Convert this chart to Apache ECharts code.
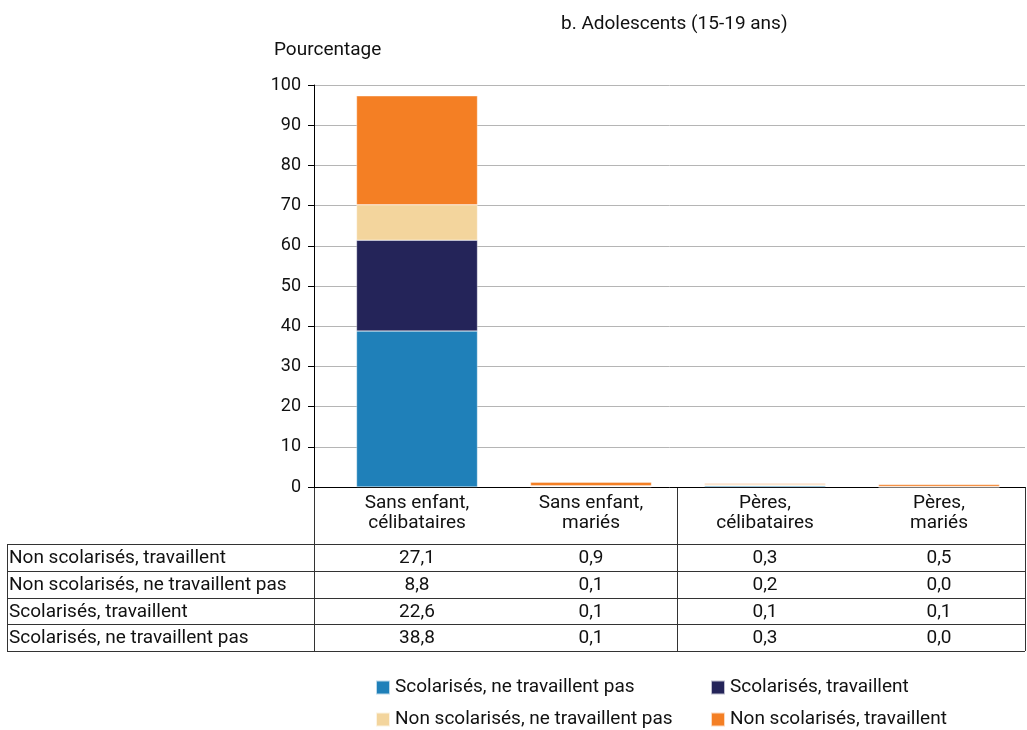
<!DOCTYPE html>
<html lang="fr">
<head>
<meta charset="UTF-8">
<title>Adolescents (15-19 ans)</title>
<style>
  html, body { margin: 0; padding: 0; background: #fff; }
  #main { width: 1027px; height: 730px; }
</style>
</head>
<body>
<div id="main"></div>
<script src="https://cdn.jsdelivr.net/npm/echarts@6/dist/echarts.min.js"></script>
<script>
// categories (x axis)
var categories = ['Sans enfant,\ncélibataires', 'Sans enfant,\nmariés', 'Pères,\ncélibataires', 'Pères,\nmariés'];

// series, stacked from bottom to top
var seriesNames = [
  'Scolarisés, ne travaillent pas',
  'Scolarisés, travaillent',
  'Non scolarisés, ne travaillent pas',
  'Non scolarisés, travaillent'
];
var scolNeTravPas = [38.8, 0.1, 0.3, 0.0];
var scolTrav = [22.6, 0.1, 0.1, 0.1];
var nonScolNeTravPas = [8.8, 0.1, 0.2, 0.0];
var nonScolTrav = [27.1, 0.9, 0.3, 0.5];
var seriesData = [scolNeTravPas, scolTrav, nonScolNeTravPas, nonScolTrav];
var colors = ['#1f80b9', '#242459', '#f3d59d', '#f47f24'];

// order of rows in the data table (top to bottom)
var tableOrder = [3, 2, 1, 0];

var FONT = 'Roboto, "Liberation Sans", sans-serif';
var TXT = '#111';
var FS = 19;

var chart = echarts.init(document.getElementById('main'));

// one legend per item so the two columns line up like the original
var legendPos = [[370, 673], [705, 673], [370, 705], [705, 705]];
var legends = seriesNames.map(function (name, i) {
  return {
    left: legendPos[i][0], top: legendPos[i][1],
    itemWidth: 14, itemHeight: 14, itemGap: 8, icon: 'rect',
    data: [name],
    textStyle: { fontSize: FS, color: TXT, fontFamily: FONT }
  };
});

var option = {
  backgroundColor: '#fff',
  animation: false,
  textStyle: { fontFamily: FONT },
  title: [
    { text: 'b. Adolescents (15-19 ans)', left: 556, top: 10,
      textStyle: { fontSize: FS, fontWeight: 'normal', color: TXT, fontFamily: FONT } },
    { text: 'Pourcentage', left: 269, top: 36,
      textStyle: { fontSize: FS, fontWeight: 'normal', color: TXT, fontFamily: FONT } }
  ],
  legend: legends,
  grid: [
    { left: 314, right: 2, top: 85, height: 402 },
    { left: 330, right: 1, top: 85, height: 402 }
  ],
  xAxis: [
    { gridIndex: 0, type: 'category', data: categories,
      axisLine: { lineStyle: { color: '#000', width: 1 } },
      axisTick: { show: false }, axisLabel: { show: false } },
    { gridIndex: 1, type: 'category', data: categories,
      axisLine: { show: false }, axisTick: { show: false },
      axisLabel: { fontSize: FS, lineHeight: 20, color: TXT, margin: 6, fontFamily: FONT } }
  ],
  yAxis: [
    { gridIndex: 0, type: 'value', min: 0, max: 100, interval: 10,
      axisLine: { show: true, lineStyle: { color: '#000', width: 1 } },
      axisTick: { show: true, length: 6, lineStyle: { color: '#000' } },
      axisLabel: { fontSize: 18, color: TXT, margin: 13, fontFamily: FONT },
      splitLine: { lineStyle: { color: '#b5b5b5', width: 1 } } },
    { gridIndex: 1, type: 'value', min: 0, max: 100, show: false, splitLine: { show: false } }
  ],
  series: seriesNames.map(function (name, i) {
    return {
      name: name,
      type: 'bar',
      stack: 'total',
      xAxisIndex: 1,
      yAxisIndex: 1,
      barWidth: 121,
      itemStyle: { color: colors[i], borderColor: 'rgba(255,255,255,0.7)', borderWidth: 0.5 },
      data: seriesData[i]
    };
  })
};

chart.setOption(option);

// data table under the chart
function fmt(v) { return v.toFixed(1).replace('.', ','); }

var rowLines = [544, 571, 598, 624, 651];
var tableLeft = 7, tableRight = 1025, axisX = 314;
var g = [];
var lineStyle = { stroke: '#333', lineWidth: 1 };

rowLines.forEach(function (y) {
  g.push({ type: 'line', silent: true,
    shape: { x1: tableLeft, y1: y + 0.5, x2: tableRight, y2: y + 0.5 }, style: lineStyle });
});
g.push({ type: 'line', silent: true,
  shape: { x1: tableLeft + 0.5, y1: rowLines[0], x2: tableLeft + 0.5, y2: 651 }, style: lineStyle });
g.push({ type: 'line', silent: true,
  shape: { x1: axisX + 0.5, y1: 487, x2: axisX + 0.5, y2: 651 }, style: lineStyle });
g.push({ type: 'line', silent: true,
  shape: { x1: 677.5, y1: 487, x2: 677.5, y2: 651 }, style: lineStyle });
g.push({ type: 'line', silent: true,
  shape: { x1: tableRight + 0.5, y1: 487, x2: tableRight + 0.5, y2: 651 }, style: lineStyle });

tableOrder.forEach(function (si, r) {
  var yMid = (rowLines[r] + rowLines[r + 1]) / 2 + 1;
  g.push({ type: 'text', silent: true, x: 9, y: yMid,
    style: { text: seriesNames[si], fontSize: FS, fill: TXT, fontFamily: FONT,
      textAlign: 'left', textVerticalAlign: 'middle' } });
  seriesData[si].forEach(function (v, c) {
    var px = chart.convertToPixel({ xAxisIndex: 1 }, c);
    g.push({ type: 'text', silent: true, x: px, y: yMid,
      style: { text: fmt(v), fontSize: FS, fill: TXT, fontFamily: FONT,
        textAlign: 'center', textVerticalAlign: 'middle' } });
  });
});

chart.setOption({ graphic: g });
</script>
</body>
</html>
